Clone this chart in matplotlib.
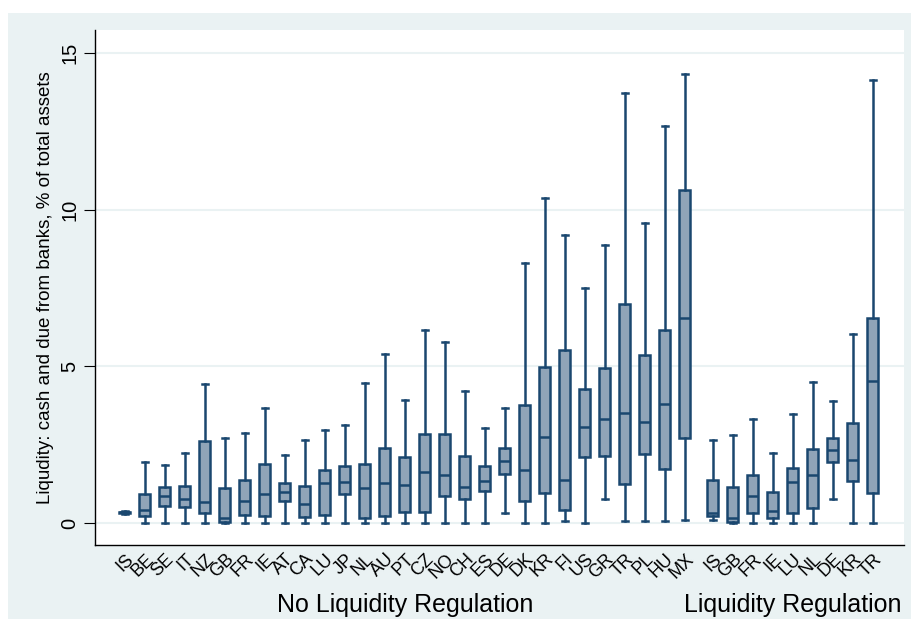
import matplotlib
matplotlib.use('Agg')
import matplotlib.pyplot as plt
from matplotlib.patches import Rectangle

plt.rcParams['font.family'] = ['Liberation Sans', 'DejaVu Sans']

# Countries without liquidity regulation
no_reg = ['IS', 'BE', 'SE', 'IT', 'NZ', 'GB', 'FR', 'IE', 'AT', 'CA', 'LU', 'JP',
          'NL', 'AU', 'PT', 'CZ', 'NO', 'CH', 'ES', 'DE', 'DK', 'KR', 'FI', 'US',
          'GR', 'TR', 'PL', 'HU', 'MX']
no_lo = [0.30, 0, 0, 0, 0, 0, 0, 0, 0, 0, 0, 0, 0, 0, 0, 0, 0, 0, 0, 0.33, 0,
         0, 0.06, 0, 0.77, 0.07, 0.07, 0.07, 0.10]
no_q1 = [0.32, 0.22, 0.55, 0.50, 0.33, 0.04, 0.27, 0.23, 0.69, 0.20, 0.26, 0.94,
         0.15, 0.22, 0.35, 0.36, 0.87, 0.76, 1.02, 1.56, 0.69, 0.96, 0.41, 2.12,
         2.14, 1.24, 2.20, 1.72, 2.70]
no_med = [0.34, 0.41, 0.85, 0.76, 0.68, 0.17, 0.72, 0.94, 0.98, 0.61, 1.29, 1.32,
          1.11, 1.28, 1.23, 1.63, 1.53, 1.14, 1.35, 1.98, 1.69, 2.74, 1.38, 3.06,
          3.33, 3.50, 3.24, 3.80, 6.55]
no_q3 = [0.36, 0.93, 1.15, 1.18, 2.62, 1.11, 1.39, 1.89, 1.29, 1.18, 1.71, 1.82,
         1.90, 2.40, 2.10, 2.85, 2.85, 2.15, 1.83, 2.39, 3.77, 4.97, 5.54, 4.27,
         4.94, 6.98, 5.35, 6.17, 10.62]
no_hi = [0.38, 1.96, 1.85, 2.24, 4.43, 2.71, 2.87, 3.68, 2.17, 2.64, 2.96, 3.14,
         4.48, 5.39, 3.93, 6.15, 5.77, 4.23, 3.04, 3.66, 8.31, 10.38, 9.19, 7.52,
         8.87, 13.73, 9.58, 12.67, 14.33]

# Countries with liquidity regulation
reg = ['IS', 'GB', 'FR', 'IE', 'LU', 'NL', 'DE', 'KR', 'TR']
reg_lo = [0.10, 0, 0, 0, 0, 0, 0.77, 0, 0]
reg_q1 = [0.22, 0.05, 0.31, 0.15, 0.31, 0.49, 1.94, 1.33, 0.97]
reg_med = [0.33, 0.17, 0.86, 0.38, 1.32, 1.52, 2.33, 2.01, 4.54]
reg_q3 = [1.37, 1.15, 1.53, 1.00, 1.76, 2.38, 2.72, 3.20, 6.55]
reg_hi = [2.64, 2.80, 3.33, 2.24, 3.47, 4.49, 3.89, 6.02, 14.14]

navy = '#1A476F'
fill = '#90A4B8'
bg = '#EAF2F3'

fig = plt.figure(figsize=(9.12, 6.19), dpi=100, facecolor='white')
fig.patches.append(Rectangle((8 / 912, 0), 1, 1 - 13 / 619, transform=fig.transFigure,
                             facecolor=bg, edgecolor='none', zorder=-10))
ax = fig.add_axes([95 / 912, 74 / 619, 809 / 912, 515 / 619])

stats = []
for lab, lo, q1, med, q3, hi in zip(no_reg + reg, no_lo + reg_lo, no_q1 + reg_q1,
                                    no_med + reg_med, no_q3 + reg_q3, no_hi + reg_hi):
    stats.append(dict(label=lab, whislo=lo, q1=q1, med=med, q3=q3, whishi=hi, fliers=[]))

positions = list(range(len(no_reg))) + [len(no_reg) + 0.4 + i for i in range(len(reg))]

ax.bxp(stats, positions=positions, widths=0.55, capwidths=0.3, patch_artist=True,
       boxprops=dict(facecolor=fill, edgecolor=navy, linewidth=1.8),
       medianprops=dict(color=navy, linewidth=1.8),
       whiskerprops=dict(color=navy, linewidth=1.8),
       capprops=dict(color=navy, linewidth=1.8))

ax.set_xlim(-1.5, 38.95)
ax.set_ylim(-0.70, 15.74)
ax.set_yticks([0, 5, 10, 15])
ax.yaxis.grid(True, color=bg, linewidth=1.5)
ax.set_axisbelow(True)
for s in ['top', 'right']:
    ax.spines[s].set_visible(False)
ax.spines['left'].set_linewidth(1.0)
ax.spines['bottom'].set_linewidth(1.0)

ax.tick_params(axis='y', length=8, width=0.8, labelsize=14.5, pad=3)
for t in ax.get_yticklabels():
    t.set_rotation(90)
    t.set_va('center')
ax.tick_params(axis='x', length=0, labelsize=13, pad=4)
ax.set_xticks(positions)
ax.set_xticklabels(no_reg + reg, rotation=45, ha='right', rotation_mode='anchor')

ax.set_ylabel('Liqudity: cash and due from banks, % of total assets', fontsize=13.5,
              labelpad=5)

trans = ax.get_xaxis_transform()
ax.text((len(no_reg) - 1) / 2, -0.117, 'No Liquidity Regulation', transform=trans,
        ha='center', va='center', fontsize=18)
ax.text(positions[len(no_reg)] + (len(reg) - 1) / 2, -0.117, 'Liquidity Regulation',
        transform=trans, ha='center', va='center', fontsize=18)

fig.savefig('out.png', dpi=100, facecolor=fig.get_facecolor())
